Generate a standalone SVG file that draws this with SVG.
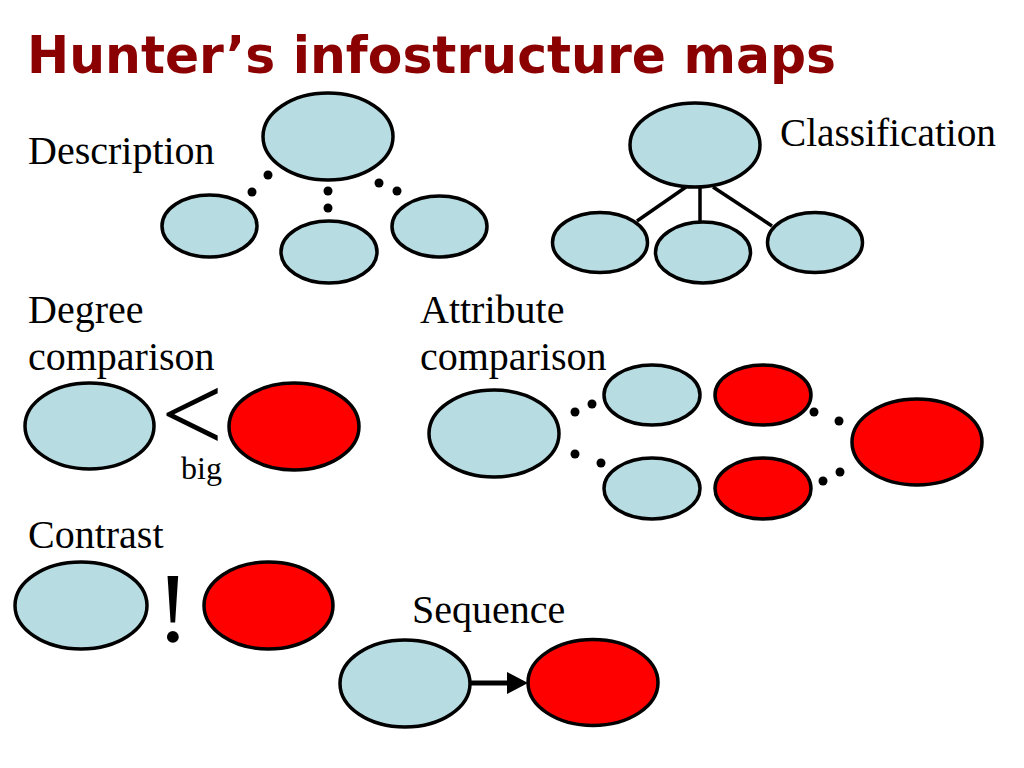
<svg xmlns="http://www.w3.org/2000/svg" width="1024" height="768" viewBox="0 0 1024 768">
<style>
.b{fill:#b7dde3;stroke:#000;stroke-width:3.5}
.r{fill:#ff0000;stroke:#000;stroke-width:3.5}
.t{font-family:"Liberation Serif","Times New Roman",serif;font-size:40px;fill:#000}
.d{fill:#000}
.ln{stroke:#000;stroke-width:3.5;fill:none}
</style>
<defs>
<marker id="ah" markerWidth="4.4" markerHeight="4.4" refX="0.2" refY="2.2" orient="auto" markerUnits="strokeWidth">
<path d="M0,0 L4.2,2.2 L0,4.4 Z" fill="#000"/>
</marker>
</defs>
<rect width="1024" height="768" fill="#fff"/>
<text x="27" y="73" font-family="'DejaVu Sans',Verdana,sans-serif" font-weight="bold" font-size="52" fill="#8b0000" textLength="809" lengthAdjust="spacingAndGlyphs">Hunter’s infostructure maps</text>

<g id="labels">
<text class="t" x="28" y="164">Description</text>
<text class="t" x="780" y="146" textLength="216" lengthAdjust="spacingAndGlyphs">Classification</text>
<text class="t" x="28" y="323">Degree</text>
<text class="t" x="28" y="370">comparison</text>
<text class="t" x="420" y="323">Attribute</text>
<text class="t" x="420" y="370">comparison</text>
<text class="t" x="28" y="548">Contrast</text>
<text class="t" x="412" y="623">Sequence</text>
</g>

<g id="connectors">
<circle class="d" cx="268" cy="175" r="4.5"/>
<circle class="d" cx="252" cy="192" r="4.5"/>
<circle class="d" cx="328" cy="191" r="4.5"/>
<circle class="d" cx="328" cy="208" r="4.5"/>
<circle class="d" cx="379" cy="183" r="4.5"/>
<circle class="d" cx="397" cy="191" r="4.5"/>
<line class="ln" x1="686" y1="187" x2="637" y2="221"/>
<line class="ln" x1="700" y1="187" x2="700" y2="222"/>
<line class="ln" x1="713" y1="187" x2="772" y2="226"/>
<circle class="d" cx="575" cy="412" r="4.5"/>
<circle class="d" cx="592" cy="404" r="4.5"/>
<circle class="d" cx="575" cy="454" r="4.5"/>
<circle class="d" cx="601" cy="463" r="4.5"/>
<circle class="d" cx="814" cy="412" r="4.5"/>
<circle class="d" cx="839" cy="421" r="4.5"/>
<circle class="d" cx="823" cy="481" r="4.5"/>
<circle class="d" cx="840" cy="472" r="4.5"/>
<line x1="470" y1="683" x2="508" y2="683" stroke="#000" stroke-width="5" marker-end="url(#ah)"/>
</g>

<g id="description-top"><ellipse class="b" cx="328" cy="136.5" rx="65" ry="43.5"/></g>
<g id="description-left"><ellipse class="b" cx="209.5" cy="226" rx="47.5" ry="31"/></g>
<g id="description-middle"><ellipse class="b" cx="329" cy="252" rx="48" ry="31"/></g>
<g id="description-right"><ellipse class="b" cx="439.5" cy="226.5" rx="47.5" ry="30.5"/></g>

<g id="classification-top"><ellipse class="b" cx="695" cy="145" rx="65" ry="42"/></g>
<g id="classification-left"><ellipse class="b" cx="600" cy="242.5" rx="47.5" ry="30"/></g>
<g id="classification-middle"><ellipse class="b" cx="703" cy="252.5" rx="47.5" ry="30.5"/></g>
<g id="classification-right"><ellipse class="b" cx="815" cy="242.5" rx="47.5" ry="30"/></g>

<g id="degree-left"><ellipse class="b" cx="89.5" cy="426" rx="64.5" ry="43"/></g>
<g id="degree-right"><ellipse class="r" cx="294" cy="426.5" rx="65" ry="43.5"/></g>
<g id="degree-sign"><text x="161" y="451" font-family="'Liberation Serif','Times New Roman',serif" font-size="110" fill="#000">&lt;</text></g>
<g id="degree-label"><text x="181" y="479" font-family="'Liberation Serif','Times New Roman',serif" font-size="32" fill="#000">big</text></g>

<g id="attribute-main"><ellipse class="b" cx="494" cy="433.5" rx="65" ry="43.5"/></g>
<g id="attribute-upper-blue"><ellipse class="b" cx="652" cy="395" rx="48" ry="30"/></g>
<g id="attribute-upper-red"><ellipse class="r" cx="763" cy="395" rx="48" ry="30"/></g>
<g id="attribute-lower-blue"><ellipse class="b" cx="652" cy="488.5" rx="48" ry="30.5"/></g>
<g id="attribute-lower-red"><ellipse class="r" cx="763" cy="488.5" rx="48" ry="30.5"/></g>
<g id="attribute-red-main"><ellipse class="r" cx="917" cy="442" rx="65" ry="43"/></g>

<g id="contrast-left"><ellipse class="b" cx="81" cy="605.5" rx="66" ry="43.5"/></g>
<g id="contrast-right"><ellipse class="r" cx="268.5" cy="605.5" rx="64.5" ry="43.5"/></g>
<g id="contrast-sign"><text x="173" y="641" text-anchor="middle" font-family="'Liberation Serif','Times New Roman',serif" font-size="100" fill="#000">!</text></g>

<g id="sequence-from"><ellipse class="b" cx="405" cy="683.5" rx="65" ry="43.5"/></g>
<g id="sequence-to"><ellipse class="r" cx="593" cy="682.5" rx="65" ry="43"/></g>
</svg>
